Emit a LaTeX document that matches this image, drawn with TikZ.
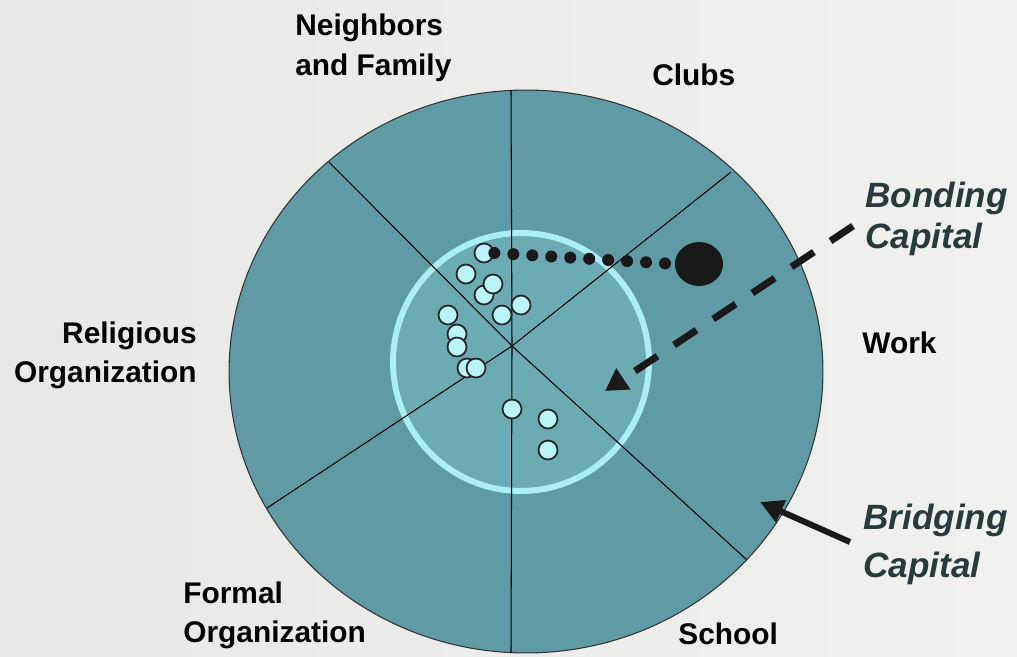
\documentclass[tikz,border=0pt]{standalone}
\usepackage{fontspec}
\setmainfont{Liberation Sans}
\usepackage{tikz}
\usetikzlibrary{arrows.meta, shapes.geometric, positioning}

\definecolor{pagebg}{RGB}{240,240,238}
\definecolor{pageleft}{RGB}{232,232,230}
\definecolor{outerfill}{RGB}{96,155,165}
\definecolor{innerfill}{RGB}{108,170,180}
\definecolor{ringcol}{RGB}{172,238,245}
\definecolor{memberfill}{RGB}{185,245,250}
\definecolor{capitalcol}{RGB}{40,58,60}

\tikzset{
  sector/.style={draw=black, line width=0.6pt},
  member/.style={circle, draw=black!85, line width=1pt, fill=memberfill, minimum size=0.38cm, inner sep=0pt},
  sectorname/.style={inner sep=0pt, font=\fontsize{17}{22.7}\selectfont\bfseries},
  capitalname/.style={inner sep=0pt, text=capitalcol, align=left, font=\fontsize{20}{23.2}\selectfont\bfseries\itshape},
}

\begin{document}
\begin{tikzpicture}[x=0.02cm, y=-0.02cm]
  % page
  \useasboundingbox (0,0) rectangle (1017,656);
  \shade[left color=pageleft, right color=pagebg] (0,0) rectangle (1017,656);

  % the two circles
  \fill[outerfill] (526,371.5) ellipse [x radius=5.94cm, y radius=5.63cm];
  \draw[black!80, line width=0.6pt] (526,371.5) ellipse [x radius=5.94cm, y radius=5.63cm];
  \fill[innerfill] (521,362) ellipse [x radius=2.56cm, y radius=2.58cm];
  \draw[ringcol, line width=3.4pt] (521,362) ellipse [x radius=2.56cm, y radius=2.58cm];

  % sectors
  \coordinate (hub) at (512,346);
  \coordinate (rimN) at (511,90);
  \coordinate (rimNE) at (731,172);
  \coordinate (rimSE) at (747,560);
  \coordinate (rimS) at (511,653);
  \coordinate (rimSW) at (267,508);
  \coordinate (rimNW) at (329,162);
  \foreach \r in {rimN, rimNE, rimSE, rimS, rimSW, rimNW}
    \draw[sector] (hub) -- (\r);

  % members of the network
  \foreach \x/\y [count=\i] in {484/253, 466/274, 484/295, 493/284, 521/305, 502/315,
                                448/315, 457/334, 457/347, 467/368, 476/368,
                                512/409, 548/419, 548/450}
    \node[member] (m\i) at (\x,\y) {};

  \node[ellipse, fill=black!90, minimum width=0.96cm, minimum height=0.88cm, inner sep=0pt] (blob) at (699,264) {};
  \draw[black!90, line width=0.24cm, line cap=round, dash pattern=on 0pt off 0.38cm] (m1.east) -- (blob.west);

  % labels
  \node[sectorname, anchor=north west, align=left] (neighbors) at (295,14) {Neighbors\\and Family};
  \node[sectorname, anchor=north west] (clubs) at (652,64) {Clubs};
  \node[sectorname, anchor=north east, align=right] (religious) at (197,321) {Religious\\Organization};
  \node[sectorname, anchor=north west] (work) at (862,331) {Work};
  \node[sectorname, anchor=north west, align=left] (formal) at (183,581) {Formal\\Organization};
  \node[sectorname, anchor=north west] (school) at (678,622) {School};

  \node[capitalname, anchor=north west] (bonding) at (865,182) {Bonding\\Capital};
  \node[capitalname, anchor=north west, font=\fontsize{20}{27.2}\selectfont\bfseries\itshape] (bridging) at (863,504) {Bridging\\Capital};

  % arrows
  \coordinate (bondtail) at (853,226);
  \coordinate (bondtip) at (605,391);
  \draw[black!90, line width=0.14cm, dash pattern=on 0.54cm off 0.4cm, -{Triangle[length=0.44cm, width=0.48cm]}] (bondtail) -- (bondtip);

  \coordinate (bridgetail) at (850,542);
  \coordinate (bridgetip) at (760,502);
  \draw[black!90, line width=0.12cm, -{Triangle[length=0.46cm, width=0.46cm]}] (bridgetail) -- (bridgetip);
\end{tikzpicture}
\end{document}
